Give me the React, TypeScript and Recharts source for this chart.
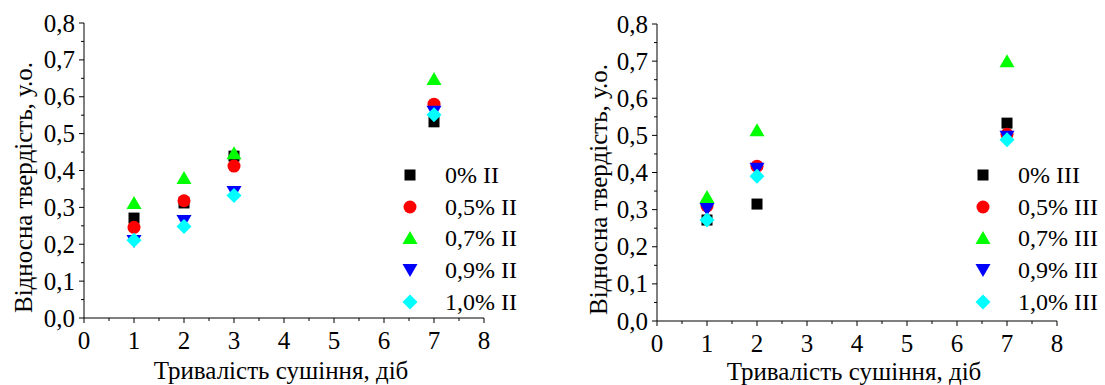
import React from 'react'
import { ScatterChart, Scatter, XAxis, YAxis } from 'recharts'

// days of drying
const daysII = [1, 2, 3, 7]
const daysIII = [1, 2, 7]

// relative hardness, series II
const p00II = [0.271, 0.312, 0.439, 0.532]
const p05II = [0.246, 0.318, 0.412, 0.58]
const p07II = [0.312, 0.38, 0.447, 0.648]
const p09II = [0.209, 0.263, 0.342, 0.559]
const p10II = [0.211, 0.248, 0.332, 0.551]

// relative hardness, series III
const p00III = [0.272, 0.315, 0.533]
const p05III = [0.31, 0.417, 0.503]
const p07III = [0.334, 0.514, 0.7]
const p09III = [0.302, 0.41, 0.496]
const p10III = [0.272, 0.39, 0.488]

const xTicks = [0, 0.5, 1, 1.5, 2, 2.5, 3, 3.5, 4, 4.5, 5, 5.5, 6, 6.5, 7, 7.5, 8]
const yTicks = [0, 0.05, 0.1, 0.15, 0.2, 0.25, 0.3, 0.35, 0.4, 0.45, 0.5, 0.55, 0.6, 0.65, 0.7, 0.75, 0.8]

const FONT = "'Liberation Serif', 'Times New Roman', serif"

type Kind = 'square' | 'circle' | 'up' | 'down' | 'diamond'

const kinds: Kind[] = ['square', 'circle', 'up', 'down', 'diamond']
const colors = ['#000000', '#ff0000', '#00ff00', '#0000ff', '#00ffff']
const labels = ['0%', '0,5%', '0,7%', '0,9%', '1,0%']

function T(props: any) {
	const { size = 25, children, ...rest } = props
	return (
		<text {...rest} fontFamily={FONT} fontSize={size} style={{ fontFamily: FONT, fontSize: size }} fill='#000'>
			{children}
		</text>
	)
}

function Marker({ kind, cx, cy, color }: { kind: Kind; cx: number; cy: number; color: string }) {
	if (kind === 'square') return <rect x={cx - 5.5} y={cy - 5.5} width={11} height={11} fill={color} />
	if (kind === 'circle') return <circle cx={cx} cy={cy} r={6.5} fill={color} />
	if (kind === 'up')
		return <polygon points={`${cx - 7.5},${cy + 6} ${cx + 7.5},${cy + 6} ${cx},${cy - 7}`} fill={color} />
	if (kind === 'down')
		return <polygon points={`${cx - 7.5},${cy - 6} ${cx + 7.5},${cy - 6} ${cx},${cy + 7}`} fill={color} />
	return <polygon points={`${cx},${cy - 7.5} ${cx + 7.5},${cy} ${cx},${cy + 7.5} ${cx - 7.5},${cy}`} fill={color} />
}

function XTick(props: any) {
	const { x, y, payload } = props
	const major = Number.isInteger(payload.value)
	return (
		<g>
			<line x1={x} y1={y} x2={x} y2={y + (major ? 5 : 3)} stroke='#000' />
			{major && (
				<T x={x} y={y + 22} textAnchor='middle' dominantBaseline='central'>
					{payload.value}
				</T>
			)}
		</g>
	)
}

function YTick(props: any) {
	const { x, y, payload } = props
	const v = payload.value as number
	const major = Math.abs(v * 10 - Math.round(v * 10)) < 1e-6
	return (
		<g>
			<line x1={x - (major ? 5 : 3)} y1={y} x2={x} y2={y} stroke='#000' />
			{major && (
				<T x={x - 9} y={y} textAnchor='end' dominantBaseline='central'>
					{v.toFixed(1).replace('.', ',')}
				</T>
			)}
		</g>
	)
}

// legend as plain html rows, marker + label
function LegendBox({ suffix, left, top }: { suffix: string; left: number; top: number }) {
	return (
		<div style={{ position: 'absolute', left, top, width: 170, height: 165 }}>
			{kinds.map((k, i) => (
				<div
					key={k}
					style={{ position: 'absolute', left: 0, top: i * 31.7, height: 32, display: 'flex', alignItems: 'center' }}
				>
					<svg width={30} height={32} style={{ display: 'block' }}>
						<Marker kind={k} cx={15} cy={16} color={colors[i]} />
					</svg>
					<span style={{ marginLeft: 20, fontFamily: FONT, fontSize: 24, lineHeight: '32px', whiteSpace: 'nowrap' }}>
						{labels[i]} {suffix}
					</span>
				</div>
			))}
		</div>
	)
}

function toPoints(days: number[], vals: number[]) {
	return days.map((d, i) => ({ x: d, y: vals[i] }))
}

function Panel({
	days,
	values,
	width,
	yAxisWidth,
	margin,
	yLabelDx,
	xLabelDy,
}: {
	days: number[]
	values: number[][]
	width: number
	yAxisWidth: number
	margin: { top: number; right: number; bottom: number; left: number }
	yLabelDx: number
	xLabelDy: number
}) {
	return (
		<ScatterChart width={width} height={385} margin={margin} style={{ fontFamily: FONT }}>
			<XAxis
				type='number'
				dataKey='x'
				domain={[0, 8]}
				ticks={xTicks}
				interval={0}
				tickSize={0}
				tickMargin={0}
				tick={<XTick />}
				tickLine={false}
				axisLine={{ stroke: '#000' }}
				height={40}
				label={({ viewBox }: any) => (
					<T x={viewBox.x + viewBox.width / 2 - 3} y={viewBox.y + xLabelDy} textAnchor='middle' dominantBaseline='central'>
						Тривалість сушіння, діб
					</T>
				)}
			/>
			<YAxis
				type='number'
				dataKey='y'
				domain={[0, 0.8]}
				ticks={yTicks}
				interval={0}
				tickSize={0}
				tickMargin={0}
				tick={<YTick />}
				tickLine={false}
				axisLine={{ stroke: '#000' }}
				width={yAxisWidth}
				label={({ viewBox }: any) => {
					const cx = viewBox.x + yLabelDx
					const cy = viewBox.y + viewBox.height / 2 + 17
					return (
						<T x={cx} y={cy} transform={`rotate(-90 ${cx} ${cy})`} textAnchor='middle' dominantBaseline='central'>
							Відносна твердість, у.о.
						</T>
					)
				}}
			/>
			{values.map((vals, i) => (
				<Scatter
					key={labels[i]}
					name={labels[i]}
					data={toPoints(days, vals)}
					fill={colors[i]}
					isAnimationActive={false}
					shape={(p: any) => <Marker kind={kinds[i]} cx={p.cx} cy={p.cy} color={colors[i]} />}
				/>
			))}
		</ScatterChart>
	)
}

export default function App() {
	return (
		<div style={{ position: 'absolute', left: 0, top: 0, width: 1105, height: 385, background: '#fff', fontFamily: FONT }}>
			<div style={{ position: 'absolute', left: 0, top: 0 }}>
				<Panel
					days={daysII}
					values={[p00II, p05II, p07II, p09II, p10II]}
					width={560}
					yAxisWidth={84}
					margin={{ top: 23, right: 76, bottom: 27, left: 0 }}
					yLabelDx={23}
					xLabelDy={52}
				/>
				<LegendBox suffix='II' left={395} top={159} />
			</div>
			<div style={{ position: 'absolute', left: 560, top: 0 }}>
				<Panel
					days={daysIII}
					values={[p00III, p05III, p07III, p09III, p10III]}
					width={545}
					yAxisWidth={97}
					margin={{ top: 24, right: 48, bottom: 24, left: 0 }}
					yLabelDx={38}
					xLabelDy={50}
				/>
				<LegendBox suffix='III' left={408} top={159} />
			</div>
		</div>
	)
}
